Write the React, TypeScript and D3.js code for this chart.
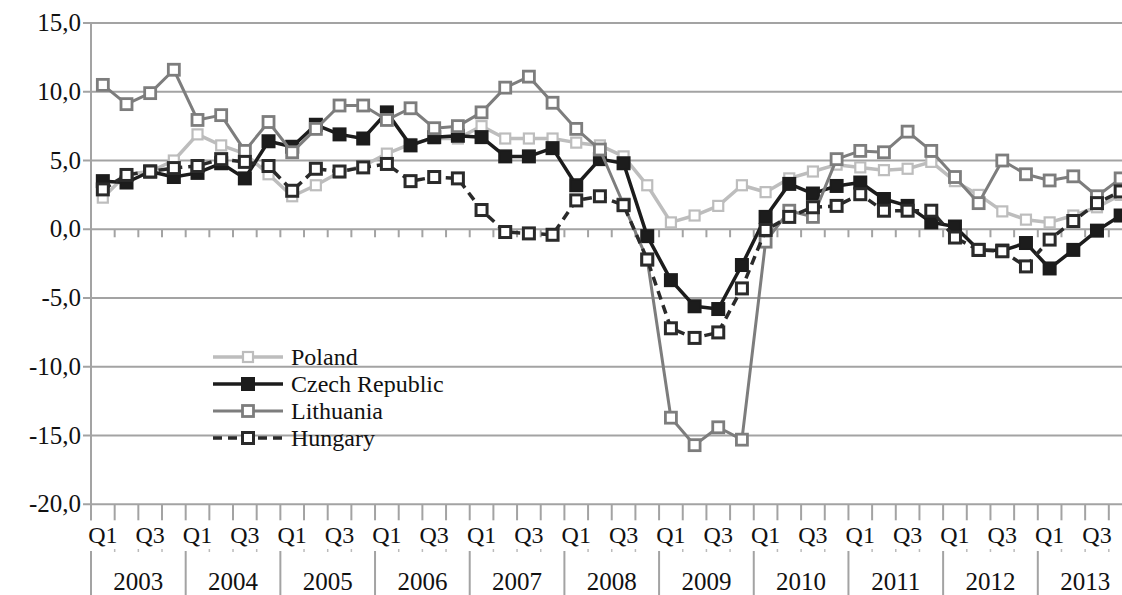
import * as d3 from 'd3';

const years = ['2003', '2004', '2005', '2006', '2007', '2008', '2009', '2010', '2011', '2012', '2013'];
const quarterNames = ['Q1', 'Q2', 'Q3', 'Q4'];
const yTicks = [-20, -15, -10, -5, 0, 5, 10, 15];

const poland = [
  2.3, 4.0, 4.2, 5.0, 6.9, 6.1, 5.5, 4.0, 2.4, 3.2, 4.15, 4.6,
  5.5, 6.2, 6.6, 6.6, 7.5, 6.6, 6.6, 6.6, 6.3, 6.1, 5.3, 3.2,
  0.5, 1.0, 1.7, 3.2, 2.7, 3.7, 4.2, 4.7, 4.5, 4.3, 4.4, 4.9,
  3.5, 2.5, 1.3, 0.7, 0.5, 1.0, 1.6, 2.5,
];
const czech = [
  3.5, 3.4, 4.2, 3.8, 4.1, 4.8, 3.7, 6.4, 6.0, 7.6, 6.9, 6.6,
  8.5, 6.1, 6.7, 6.8, 6.7, 5.3, 5.3, 5.9, 3.2, 5.1, 4.8, -0.5,
  -3.7, -5.6, -5.8, -2.6, 0.9, 3.3, 2.6, 3.15, 3.4, 2.2, 1.7, 0.5,
  0.2, -1.5, -1.55, -1.0, -2.85, -1.5, -0.1, 1.0,
];
const lithuania = [
  10.5, 9.1, 9.9, 11.6, 7.95, 8.3, 5.7, 7.8, 5.6, 7.3, 9.0, 9.0,
  7.95, 8.8, 7.35, 7.5, 8.5, 10.3, 11.1, 9.2, 7.3, 5.8, 1.8, -2.2,
  -13.7, -15.7, -14.4, -15.3, -0.9, 1.35, 0.9, 5.1, 5.7, 5.6, 7.1, 5.7,
  3.8, 1.9, 5.0, 4.0, 3.55, 3.85, 2.4, 3.7,
];
const hungary = [
  2.9, 3.95, 4.2, 4.45, 4.6, 5.1, 4.9, 4.6, 2.8, 4.4, 4.2, 4.5,
  4.75, 3.5, 3.8, 3.7, 1.4, -0.2, -0.3, -0.4, 2.1, 2.4, 1.75, -2.2,
  -7.2, -7.9, -7.5, -4.3, -0.05, 0.9, 1.6, 1.7, 2.55, 1.35, 1.35, 1.35,
  -0.6, -1.5, -1.6, -2.7, -0.75, 0.6, 1.9, 2.75,
];

const series = [
  { name: 'Poland', values: poland, stroke: '#bdbdbd', width: 3.5, dash: null, marker: 'open', mStroke: '#bdbdbd', mSize: 10, mWidth: 2.2 },
  { name: 'Czech Republic', values: czech, stroke: '#1c1c1c', width: 3.5, dash: null, marker: 'filled', mStroke: '#1c1c1c', mSize: 12, mWidth: 2 },
  { name: 'Lithuania', values: lithuania, stroke: '#7d7d7d', width: 3, dash: null, marker: 'open', mStroke: '#7d7d7d', mSize: 11, mWidth: 2.8 },
  { name: 'Hungary', values: hungary, stroke: '#2a2a2a', width: 3.5, dash: '9,6', marker: 'open', mStroke: '#2a2a2a', mSize: 11, mWidth: 3 },
];

const W = 1122;
const H = 595;
const left = 91;
const step = 23.67;
const font = '"Liberation Serif", "Times New Roman", serif';
const grid = '#a3a3a3';

export default function App() {
  const quarters = years.flatMap(y => quarterNames.map(q => `${y} ${q}`));
  const x = d3.scaleBand<number>()
    .domain(d3.range(quarters.length))
    .range([left, left + step * quarters.length])
    .padding(0);
  const bw = x.bandwidth();
  const cx = (i: number) => (x(i) as number) + bw / 2;
  const y = d3.scaleLinear().domain([-20, 15]).range([504.3, 23]);
  // excel style: comma decimal, plain hyphen for negatives
  const fmt = (v: number) => d3.format('.1f')(v).replace('.', ',').replace('\u2212', '-');

  const line = (vals: number[]) =>
    d3.line<number>().x((_, i) => cx(i)).y(d => y(d))(vals) || '';

  const bounds = d3.range(quarters.length + 1).map(i => left + i * bw);

  const legendY = [357, 384, 411, 438];

  const marker = (s: typeof series[number], px: number, py: number, key: string) => (
    <rect
      key={key}
      x={px - s.mSize / 2}
      y={py - s.mSize / 2}
      width={s.mSize}
      height={s.mSize}
      fill={s.marker === 'filled' ? s.mStroke : '#fff'}
      stroke={s.mStroke}
      strokeWidth={s.mWidth}
    />
  );

  return (
    <svg width={W} height={H} style={{ position: 'absolute', left: 0, top: 0, background: '#fff' }} fontFamily={font}>
      {/* gridlines + y labels */}
      {yTicks.map(t => (
        <g key={t}>
          <line x1={83} x2={W} y1={y(t)} y2={y(t)} stroke={grid} strokeWidth={2} />
          <text x={81} y={y(t) + 8} textAnchor="end" fontSize={25} fill="#111">{fmt(t)}</text>
        </g>
      ))}
      <line x1={left} x2={left} y1={y(15)} y2={y(-20) + 16} stroke={grid} strokeWidth={2} />

      {/* ticks on the zero axis */}
      {bounds.map((b, i) => (
        <line key={`z${i}`} x1={b} x2={b} y1={y(0)} y2={y(0) + 8} stroke={grid} strokeWidth={2} />
      ))}
      {/* ticks below the bottom line */}
      {bounds.map((b, i) => (
        <line key={`b${i}`} x1={b} x2={b} y1={y(-20)} y2={y(-20) + 16} stroke={grid} strokeWidth={2} />
      ))}

      {/* quarter labels */}
      {quarters.map((q, i) =>
        i % 2 === 0 ? (
          <text key={q} x={cx(i)} y={543} textAnchor="middle" fontSize={24} fill="#111">
            {quarterNames[i % 4]}
          </text>
        ) : null
      )}
      {/* small dashes and year separators */}
      {bounds.map((b, i) =>
        i % 4 === 0 ? (
          <line key={`y${i}`} x1={b} x2={b} y1={551} y2={H} stroke={grid} strokeWidth={2} />
        ) : (
          <line key={`d${i}`} x1={b} x2={b} y1={549} y2={552} stroke="#bbb" strokeWidth={1.5} />
        )
      )}
      {years.map((yr, k) => (
        <text key={yr} x={left + (k * 4 + 2) * bw} y={590} textAnchor="middle" fontSize={25} fill="#111">
          {yr}
        </text>
      ))}

      {/* series */}
      {series.map(s => (
        <g key={s.name}>
          <path d={line(s.values)} fill="none" stroke={s.stroke} strokeWidth={s.width}
            strokeDasharray={s.dash || undefined} strokeLinejoin="round" />
          {s.values.map((v, i) => marker(s, cx(i), y(v), `${s.name}${i}`))}
        </g>
      ))}

      {/* legend */}
      {series.map((s, k) => (
        <g key={`lg${s.name}`}>
          <line x1={213} x2={283} y1={legendY[k]} y2={legendY[k]} stroke={s.stroke} strokeWidth={s.width}
            strokeDasharray={s.dash || undefined} />
          {marker(s, 248, legendY[k], `lm${k}`)}
          <text x={291} y={legendY[k] + 8} fontSize={24} fill="#111">{s.name}</text>
        </g>
      ))}
    </svg>
  );
}
